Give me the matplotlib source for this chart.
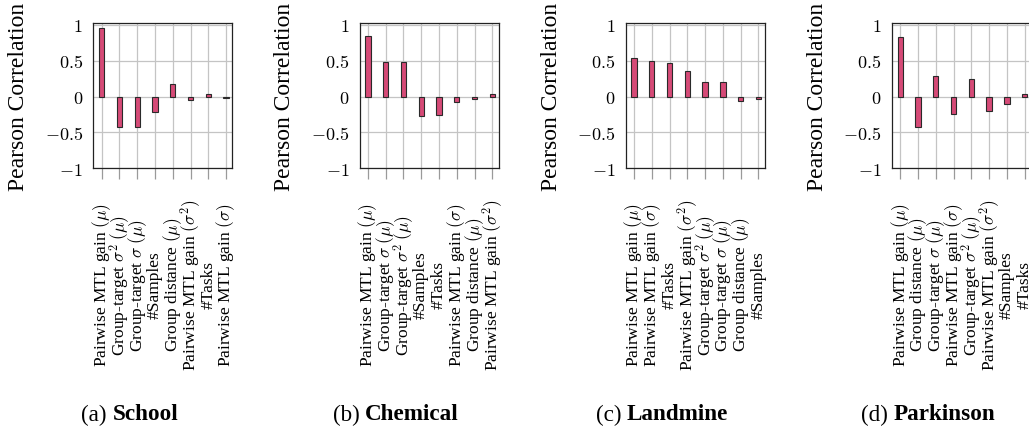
import matplotlib
matplotlib.use("Agg")
import matplotlib.pyplot as plt

plt.rcParams['font.family'] = ['Liberation Serif', 'DejaVu Serif']
plt.rcParams['mathtext.fontset'] = 'cm'

# panel captions
letters = ['(a)', '(b)', '(c)', '(d)']
datasets = ['School', 'Chemical', 'Landmine', 'Parkinson']

# feature names per dataset (sorted by correlation magnitude in the paper)
labels_school = [r'Pairwise MTL gain $(\mu)$', r'Group-target $\sigma^2$ $(\mu)$',
                 r'Group-target $\sigma$ $(\mu)$', '#Samples', r'Group distance $(\mu)$',
                 r'Pairwise MTL gain $(\sigma^2)$', '#Tasks', r'Pairwise MTL gain $(\sigma)$']
labels_chemical = [r'Pairwise MTL gain $(\mu)$', r'Group-target $\sigma$ $(\mu)$',
                   r'Group-target $\sigma^2$ $(\mu)$', '#Samples', '#Tasks',
                   r'Pairwise MTL gain $(\sigma)$', r'Group distance $(\mu)$',
                   r'Pairwise MTL gain $(\sigma^2)$']
labels_landmine = [r'Pairwise MTL gain $(\mu)$', r'Pairwise MTL gain $(\sigma)$', '#Tasks',
                   r'Pairwise MTL gain $(\sigma^2)$', r'Group-target $\sigma^2$ $(\mu)$',
                   r'Group-target $\sigma$ $(\mu)$', r'Group distance $(\mu)$', '#Samples']
labels_parkinson = [r'Pairwise MTL gain $(\mu)$', r'Group distance $(\mu)$',
                    r'Group-target $\sigma$ $(\mu)$', r'Pairwise MTL gain $(\sigma)$',
                    r'Group-target $\sigma^2$ $(\mu)$', r'Pairwise MTL gain $(\sigma^2)$',
                    '#Samples', '#Tasks']

# pearson correlations
corr_school = [0.96, -0.43, -0.43, -0.21, 0.18, -0.05, 0.04, -0.02]
corr_chemical = [0.85, 0.48, 0.48, -0.27, -0.26, -0.08, -0.03, 0.03]
corr_landmine = [0.54, 0.49, 0.46, 0.35, 0.20, 0.20, -0.06, -0.03]
corr_parkinson = [0.83, -0.42, 0.29, -0.25, 0.245, -0.20, -0.11, 0.04]

all_labels = [labels_school, labels_chemical, labels_landmine, labels_parkinson]
all_corr = [corr_school, corr_chemical, corr_landmine, corr_parkinson]

W, H = 1029, 431
fig = plt.figure(figsize=(W / 100, H / 100), dpi=100)

bar_color = '#d64a77'
grid_color = '#c4c4c4'

for i in range(4):
    left = 93.3 + 266.2 * i
    ax = fig.add_axes([left / W, 1 - 169.3 / H, 139 / W, 145 / H])
    x = list(range(len(all_corr[i])))
    ax.bar(x, all_corr[i], width=0.3, color=bar_color, edgecolor='#2a2a2a',
           linewidth=0.8, zorder=3)
    ax.set_xlim(-0.47, 7.35)
    ax.set_ylim(-1, 1.02)
    ax.set_yticks([-1, -0.5, 0, 0.5, 1])
    ax.set_yticklabels([r'$-1$', r'$-0.5$', r'$0$', r'$0.5$', r'$1$'], fontsize=13)
    ax.set_xticks(x)
    ax.set_xticklabels(all_labels[i], rotation=90, va='center', fontsize=12.5)
    ax.grid(True, color=grid_color, linewidth=0.9, zorder=0)
    ax.tick_params(axis='x', length=8, width=0.9, color='#9a9a9a', pad=75.5)
    ax.tick_params(axis='y', length=0, pad=7.5)
    for s in ax.spines.values():
        s.set_color('#222222')
        s.set_linewidth(0.9)
    ax.set_ylabel('Pearson Correlation', fontsize=17, va='center')
    ax.yaxis.set_label_coords(-74.5 / 139, 0.5)

# captions: regular letter + bold dataset name, centred under each sub-figure
fig.canvas.draw()
renderer = fig.canvas.get_renderer()
for i in range(4):
    cx = (130 + 266 * i) / W
    y = 1 - 415 / H
    t1 = fig.text(0, y, letters[i] + ' ', fontsize=16.7, va='center', ha='left')
    t2 = fig.text(0, y, datasets[i], fontsize=16.7, fontweight='bold', va='center', ha='left')
    w1 = t1.get_window_extent(renderer).width / W
    w2 = t2.get_window_extent(renderer).width / W
    start = cx - (w1 + w2) / 2
    t1.set_x(start)
    t2.set_x(start + w1)

fig.savefig('out.png', dpi=100)
